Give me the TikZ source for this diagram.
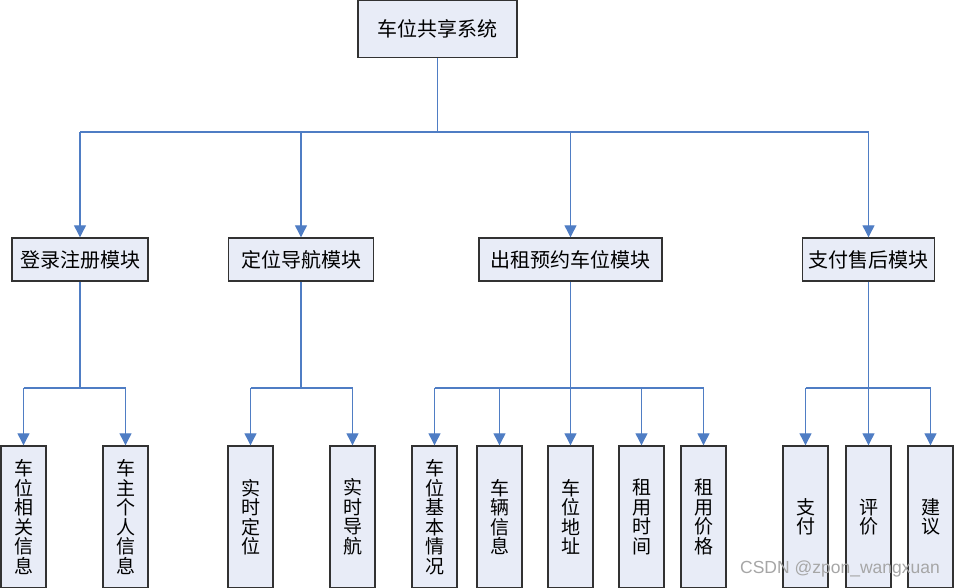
\documentclass[tikz,border=0pt]{standalone}
\usepackage{fontspec}
\setmainfont{Noto Sans CJK SC}
\usetikzlibrary{arrows.meta}
\definecolor{boxfill}{RGB}{232,236,247}
\definecolor{boxline}{RGB}{50,50,50}
\definecolor{conn}{RGB}{79,125,196}
\tikzset{
  box/.style={draw=boxline, line width=1.4pt, fill=boxfill, inner sep=0pt, align=center},
  topbox/.style={box, minimum width=159pt, minimum height=57pt, font=\fontsize{20}{21}\selectfont},
  modbox/.style={box, minimum height=43pt, font=\fontsize{20}{21}\selectfont},
  leafbox/.style={box, minimum width=45pt, minimum height=142pt, font=\fontsize{19}{19.5}\selectfont},
  wire/.style={draw=conn, line width=1.2pt},
  arr/.style={wire, -{Triangle[width=12pt,length=12pt]}}
}
\begin{document}
\begin{tikzpicture}[x=1pt,y=-1pt]
\useasboundingbox (0,0) rectangle (954,588);
\clip (0,0) rectangle (954,588);
\fill[white] (0,0) rectangle (954,588);
% top
\node[topbox] (root) at (437.5,29) {车位共享系统};
% modules
\node[modbox, minimum width=136pt] (m1) at (80,259.5) {登录注册模块};
\node[modbox, minimum width=145pt] (m2) at (301,259.5) {定位导航模块};
\node[modbox, minimum width=183pt] (m3) at (570.5,259.5) {出租预约车位模块};
\node[modbox, minimum width=132pt] (m4) at (868.5,259.5) {支付售后模块};
% bus coordinates
\coordinate (bus) at (437.5,132);
\draw[wire] (root.south) -- (bus);
\coordinate (b1) at (80,132);
\coordinate (b2) at (301,132);
\coordinate (b3) at (570.5,132);
\coordinate (b4) at (868.5,132);
\draw[wire] (b1) -- (b4);
\draw[arr] (b1) -- (m1.north);
\draw[arr] (b2) -- (m2.north);
\draw[arr] (b3) -- (m3.north);
\draw[arr] (b4) -- (m4.north);
% leaves
\node[leafbox] (l11) at (23.5,517) {车\\位\\相\\关\\信\\息};
\node[leafbox] (l12) at (125.5,517) {车\\主\\个\\人\\信\\息};
\node[leafbox] (l21) at (250.5,517) {实\\时\\定\\位};
\node[leafbox] (l22) at (352.5,517) {实\\时\\导\\航};
\node[leafbox] (l31) at (434.5,517) {车\\位\\基\\本\\情\\况};
\node[leafbox] (l32) at (499.5,517) {车\\辆\\信\\息};
\node[leafbox] (l33) at (570.5,517) {车\\位\\地\\址};
\node[leafbox] (l34) at (641.5,517) {租\\用\\时\\间};
\node[leafbox] (l35) at (703.5,517) {租\\用\\价\\格};
\node[leafbox] (l41) at (805.5,517) {支\\付};
\node[leafbox] (l42) at (868.5,517) {评\\价};
\node[leafbox] (l43) at (930.5,517) {建\\议};
% group 1
\coordinate (j1) at (80,388);
\coordinate (j11) at (23.5,388);
\coordinate (j12) at (125.5,388);
\draw[wire] (m1.south) -- (j1);
\draw[wire] (j11) -- (j12);
\draw[arr] (j11) -- (l11.north);
\draw[arr] (j12) -- (l12.north);
% group 2
\coordinate (j2) at (301,388);
\coordinate (j21) at (250.5,388);
\coordinate (j22) at (352.5,388);
\draw[wire] (m2.south) -- (j2);
\draw[wire] (j21) -- (j22);
\draw[arr] (j21) -- (l21.north);
\draw[arr] (j22) -- (l22.north);
% group 3
\coordinate (j31) at (434.5,388);
\coordinate (j32) at (499.5,388);
\coordinate (j34) at (641.5,388);
\coordinate (j35) at (703.5,388);
\draw[wire] (j31) -- (j35);
\draw[arr] (m3.south) -- (l33.north);
\draw[arr] (j31) -- (l31.north);
\draw[arr] (j32) -- (l32.north);
\draw[arr] (j34) -- (l34.north);
\draw[arr] (j35) -- (l35.north);
% group 4
\coordinate (j41) at (805.5,388);
\coordinate (j43) at (930.5,388);
\draw[wire] (j41) -- (j43);
\draw[arr] (m4.south) -- (l42.north);
\draw[arr] (j41) -- (l41.north);
\draw[arr] (j43) -- (l43.north);
% watermark
\node[text=black!35, font=\fontsize{17.5}{17.5}\selectfont\fontspec{Liberation Sans}, anchor=center] (wm) at (840,569) {CSDN @zpon\_wangxuan};
\end{tikzpicture}
\end{document}
